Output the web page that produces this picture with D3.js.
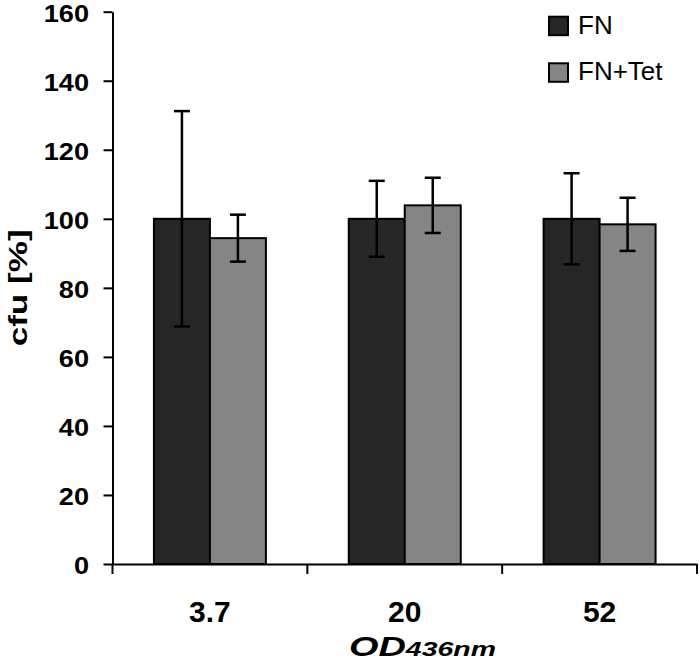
<!DOCTYPE html>
<html>
<head>
<meta charset="utf-8">
<script src="https://cdn.jsdelivr.net/npm/d3@7"></script>
<style>
  body { margin: 0; background: #fff; }
  text { font-family: Arial, "Liberation Sans", sans-serif; }
</style>
</head>
<body>
<script>
// data
const categories = ['3.7', '20', '52']
const series = ['FN', 'FN+Tet']
const fnValues = [100, 100, 100]
const fnErrors = [31.2, 11, 13.2]
const tetValues = [94.4, 103.9, 98.4]
const tetErrors = [6.8, 8, 7.7]
const yTicks = [0, 20, 40, 60, 80, 100, 120, 140, 160]

const colors = { 'FN': '#262626', 'FN+Tet': '#858585' }

const w = 700
const h = 659
const margin = { top: 11.7, bottom: 95, left: 112.5, right: 3 }

const rows = []
categories.forEach((c, i) => {
  rows.push({ cat: c, s: 'FN', v: fnValues[i], e: fnErrors[i] })
  rows.push({ cat: c, s: 'FN+Tet', v: tetValues[i], e: tetErrors[i] })
})

const svg = d3.select('body')
  .append('svg')
  .attr('width', w)
  .attr('height', h)

const x0 = d3.scaleBand()
  .domain(categories)
  .range([margin.left, w - margin.right])
  .padding(0)

const x1 = d3.scaleBand()
  .domain(series)
  .range([0, x0.bandwidth()])
  .paddingInner(0)
  .paddingOuter(0.74)

const y = d3.scaleLinear()
  .domain([0, 160])
  .range([h - margin.bottom, margin.top])

const y0 = y(0)

// bars
svg.append('g')
  .selectAll('rect')
  .data(rows)
  .enter()
  .append('rect')
  .attr('x', d => x0(d.cat) + x1(d.s))
  .attr('y', d => y(d.v))
  .attr('width', x1.bandwidth())
  .attr('height', d => y0 - y(d.v))
  .style('fill', d => colors[d.s])
  .style('stroke', '#000')
  .style('stroke-width', '2px')

// error bars
const eb = svg.append('g')
  .selectAll('g')
  .data(rows)
  .enter()
  .append('g')
  .attr('transform', d => `translate(${x0(d.cat) + x1(d.s) + x1.bandwidth() / 2},0)`)

eb.append('line')
  .attr('x1', 0).attr('x2', 0)
  .attr('y1', d => y(d.v + d.e))
  .attr('y2', d => y(d.v - d.e))
  .style('stroke', '#000')
  .style('stroke-width', '2.5px')

eb.selectAll('line.cap')
  .data(d => [d.v + d.e, d.v - d.e])
  .enter()
  .append('line')
  .attr('class', 'cap')
  .attr('x1', -8).attr('x2', 8)
  .attr('y1', v => y(v))
  .attr('y2', v => y(v))
  .style('stroke', '#000')
  .style('stroke-width', '2.5px')

// y axis
const yAxis = d3.axisLeft(y)
  .tickValues(yTicks)
  .tickSize(9)
  .tickSizeOuter(0)

const yg = svg.append('g')
  .attr('transform', `translate(${margin.left},0)`)
  .call(yAxis)

yg.select('.domain').style('stroke-width', '2px')
yg.selectAll('.tick line').style('stroke-width', '2px')
yg.selectAll('.tick text')
  .attr('x', null)
  .attr('dy', '0.42em')
  .attr('transform', 'translate(-23.5,0) scale(1.18,1)')
  .style('font-size', '23px')
  .style('font-weight', 'bold')
  .style('fill', '#000')

// x axis
const xAxis = d3.axisBottom(x0)
  .tickSize(0)
  .tickSizeOuter(0)

const xg = svg.append('g')
  .attr('transform', `translate(0,${y0})`)
  .call(xAxis)

xg.select('.domain').style('stroke-width', '2px')
xg.selectAll('.tick text')
  .attr('y', 57.5)
  .attr('dy', 0)
  .style('font-size', '30px')
  .style('font-weight', 'bold')
  .style('fill', '#000')

// category boundary ticks
const edges = categories.map(c => x0(c)).concat([x0(categories[categories.length - 1]) + x0.bandwidth()])
xg.selectAll('line.edge')
  .data(edges)
  .enter()
  .append('line')
  .attr('class', 'edge')
  .attr('x1', d => d).attr('x2', d => d)
  .attr('y1', 0).attr('y2', 10)
  .style('stroke', '#000')
  .style('stroke-width', '2px')

// axis titles
svg.append('text')
  .attr('transform', `translate(26.5,${(y(160) + y0) / 2}) rotate(-90)`)
  .attr('text-anchor', 'middle')
  .attr('textLength', 117)
  .attr('lengthAdjust', 'spacingAndGlyphs')
  .style('font-size', '25px')
  .style('font-weight', 'bold')
  .text('cfu [%]')

const xt = svg.append('text')
  .attr('x', 349)
  .attr('y', 656)
  .attr('textLength', 147)
  .attr('lengthAdjust', 'spacingAndGlyphs')
  .style('font-size', '28px')
  .style('font-weight', 'bold')
  .style('font-style', 'italic')
xt.append('tspan').text('OD')
xt.append('tspan').style('font-size', '21px').text('436nm')

// legend
const lg = svg.append('g')
  .selectAll('g')
  .data(series)
  .enter()
  .append('g')
  .attr('transform', (d, i) => `translate(549,${16.7 + i * 46.6})`)

lg.append('rect')
  .attr('width', 19)
  .attr('height', 18.5)
  .style('fill', d => colors[d])
  .style('stroke', '#000')
  .style('stroke-width', '2px')

lg.append('text')
  .attr('x', 29)
  .attr('y', 16.8)
  .style('font-size', '26px')
  .text(d => d)
</script>
</body>
</html>
